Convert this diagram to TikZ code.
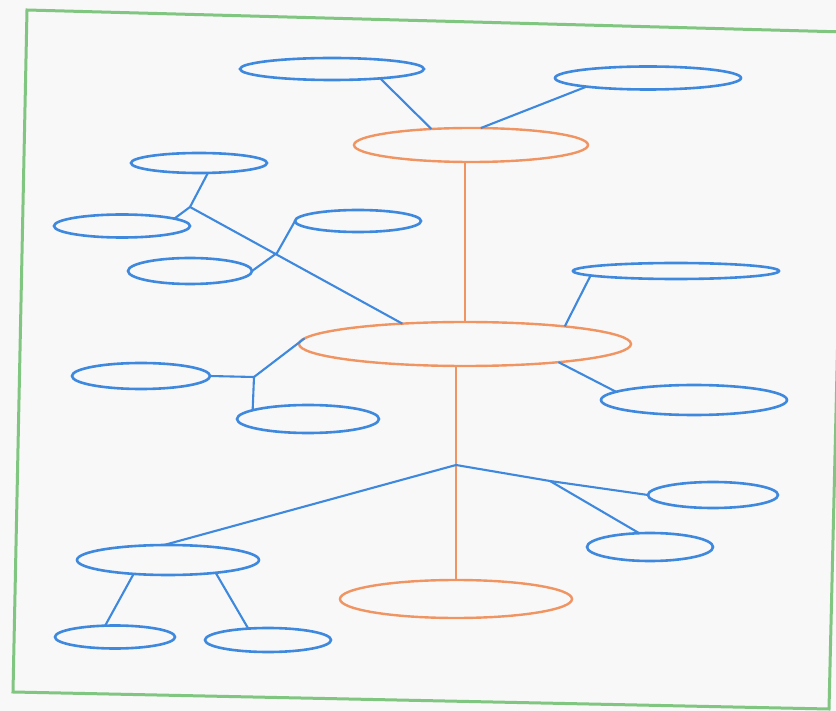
\documentclass[tikz,border=0pt]{standalone}
\usetikzlibrary{shapes.geometric}
\definecolor{myblue}{RGB}{62,136,222}
\definecolor{myorange}{RGB}{240,148,98}
\definecolor{mygreen}{RGB}{128,198,128}
\definecolor{mybg}{RGB}{248,248,248}
\tikzset{
  bnode/.style={draw=myblue, line width=2.6pt, ellipse, inner sep=0pt, outer sep=0pt},
  onode/.style={draw=myorange, line width=2.4pt, ellipse, inner sep=0pt, outer sep=0pt},
  bline/.style={draw=myblue, line width=2.1pt},
  oline/.style={draw=myorange, line width=2.4pt},
  frame/.style={draw=mygreen, line width=3pt, line join=miter},
}
\begin{document}
\begin{tikzpicture}[x=1pt,y=-1pt]
\useasboundingbox (0,0) rectangle (836,711);
\fill[mybg] (0,0) rectangle (836,711);
\begin{scope}
\clip (0,0) rectangle (836,711);
\draw[frame] (27,10) -- (845,32) -- (829,709) -- (13,692) -- cycle;
\end{scope}

% orange nodes
\node[onode, minimum width=234pt, minimum height=34pt] (O1) at (471,145) {};
\node[onode, minimum width=332pt, minimum height=44pt] (O2) at (465,344) {};
\node[onode, minimum width=232pt, minimum height=38pt] (O3) at (456,599) {};

% blue nodes
\node[bnode, minimum width=184pt, minimum height=22pt] (B1) at (332,69) {};
\node[bnode, minimum width=186pt, minimum height=23pt] (B2) at (648,78) {};
\node[bnode, minimum width=136pt, minimum height=20pt] (B3) at (199,163) {};
\node[bnode, minimum width=136pt, minimum height=23pt] (B4) at (122,226) {};
\node[bnode, minimum width=126pt, minimum height=22pt] (B5) at (358,221) {};
\node[bnode, minimum width=124pt, minimum height=26pt] (B6) at (190,271) {};
\node[bnode, minimum width=206pt, minimum height=16pt] (B7) at (676,271) {};
\node[bnode, minimum width=138pt, minimum height=26pt] (B8) at (141,376) {};
\node[bnode, minimum width=142pt, minimum height=28pt] (B9) at (308,419) {};
\node[bnode, minimum width=186pt, minimum height=30pt] (B10) at (694,400) {};
\node[bnode, minimum width=130pt, minimum height=26pt] (B11) at (713,495) {};
\node[bnode, minimum width=126pt, minimum height=28pt] (B12) at (650,547) {};
\node[bnode, minimum width=182pt, minimum height=30pt] (B13) at (168,560) {};
\node[bnode, minimum width=120pt, minimum height=23pt] (B14) at (115,637) {};
\node[bnode, minimum width=126pt, minimum height=24pt] (B15) at (268,640) {};

% junctions
\coordinate (J1) at (190,207);
\coordinate (J2) at (277,253);
\coordinate (J3) at (456,465);
\coordinate (J4) at (550,481);
\coordinate (J5) at (254,377);

% orange connectors
\draw[oline] (O2.north) -- (O2.north |- O1.south);
\draw[oline] (O3.north) -- (O3.north |- O2.south);

% blue connectors
\draw[bline] (B1.-11) -- (O1.158);
\draw[bline] (B2.188) -- (O1.60);
\draw[bline] (B3.-48) -- (J1);
\draw[bline] (J1) -- (B4.8);
\draw[bline] (J1) -- (O2.162);
\draw[bline] (B5.west) -- (J2) -- (B6.east);
\draw[bline] (B7.183) -- (O2.10);
\draw[bline] (O2.178) -- (J5);
\draw[bline] (B8.east) -- (J5);
\draw[bline] (J5) -- (B9.171);
\draw[bline] (O2.-11) -- (B10.174);
\draw[bline] (J3) -- (B13.105);
\draw[bline] (J3) -- (J4) -- (B11.west);
\draw[bline] (J4) -- (B12.128);
\draw[bline] (B13.202) -- (B14.131);
\draw[bline] (B13.-15) -- (B15.150);
\end{tikzpicture}
\end{document}
